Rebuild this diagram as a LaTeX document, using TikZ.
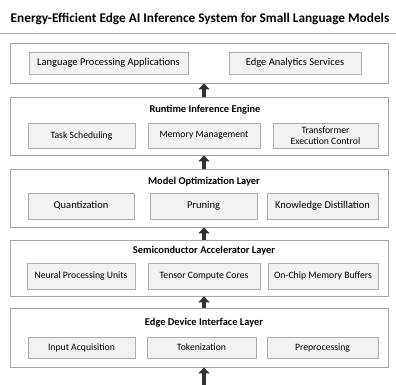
\documentclass[tikz,border=0pt]{standalone}
\usepackage{fontspec}
\setmainfont{Carlito}
\usetikzlibrary{arrows.meta}

\tikzset{
  layer/.style={draw=gray!70, fill=white, line width=0.7pt, minimum width=378pt, inner sep=0pt},
  part/.style={draw=gray!65, fill=gray!10, line width=0.7pt, minimum height=24pt, inner sep=1pt,
    align=center, font=\fontsize{9.7}{10.5}\selectfont},
  bigpart/.style={part, font=\fontsize{10.5}{11}\selectfont},
  layertitle/.style={font=\bfseries\fontsize{10.4}{12}\selectfont},
  uparrow/.style={draw=black!80, line width=3.5pt, -{Triangle[length=6pt,width=11pt]}}
}

\begin{document}
\begin{tikzpicture}[x=1pt,y=-1pt]
  \useasboundingbox (0,0) rectangle (396,385);
  % title
  \node[font=\bfseries\fontsize{13.3}{15}\selectfont] (title) at (200,19) {Energy-Efficient Edge AI Inference System for Small Language Models};
  \draw[gray!70, line width=0.8pt] (0,33) -- (396,33);

  % layer 1: applications
  \node[layer, minimum height=40pt] (l1) at (199,63) {};
  \node[bigpart, minimum width=159pt, minimum height=22pt] (app) at (108.5,63) {Language Processing Applications};
  \node[bigpart, minimum width=132pt, minimum height=22pt] (ana) at (295,63) {Edge Analytics Services};

  % layer 2: runtime
  \node[layer, minimum height=58pt] (l2) at (199,126) {};
  \node[layertitle] (t2) at (205,110) {Runtime Inference Engine};
  \node[part, minimum width=107pt, minimum height=25pt] (sched) at (81.5,135.5) {Task Scheduling};
  \node[part, minimum width=112pt, minimum height=25pt] (mem) at (204,135.5) {Memory Management};
  \node[part, minimum width=105pt, minimum height=25pt] (exec) at (325.5,135.5) {Transformer\\Execution Control};

  % layer 3: optimization
  \node[layer, minimum height=58pt] (l3) at (199,198) {};
  \node[layertitle] (t3) at (204,182) {Model Optimization Layer};
  \node[bigpart, minimum width=106pt, minimum height=26pt] (quant) at (81,206) {Quantization};
  \node[bigpart, minimum width=107pt, minimum height=26pt] (prune) at (203.5,206) {Pruning};
  \node[bigpart, minimum width=111pt, minimum height=26pt] (distil) at (322.5,206) {Knowledge Distillation};

  % layer 4: accelerator
  \node[layer, minimum height=56pt] (l4) at (199,268) {};
  \node[layertitle] (t4) at (204,251) {Semiconductor Accelerator Layer};
  \node[part, minimum width=108pt, minimum height=26pt] (npu) at (81,276) {Neural Processing Units};
  \node[part, minimum width=112pt, minimum height=26pt] (tensor) at (204,276) {Tensor Compute Cores};
  \node[part, minimum width=110pt, minimum height=26pt] (buf) at (323,276) {On-Chip Memory Buffers};

  % layer 5: device interface
  \node[layer, minimum height=59pt] (l5) at (199,337.5) {};
  \node[layertitle] (t5) at (204,323) {Edge Device Interface Layer};
  \node[part, minimum width=107pt, minimum height=21pt] (input) at (81.5,347.5) {Input Acquisition};
  \node[part, minimum width=109pt, minimum height=21pt] (token) at (201.5,347.5) {Tokenization};
  \node[part, minimum width=111pt, minimum height=21pt] (prep) at (322.5,347.5) {Preprocessing};

  % data flow upwards
  \coordinate (src) at (204,385);
  \draw[uparrow] (src) -- (l5.south -| src);
  \draw[uparrow] (l5.north -| src) -- (l4.south -| src);
  \draw[uparrow] (l4.north -| src) -- (l3.south -| src);
  \draw[uparrow] (l3.north -| src) -- (l2.south -| src);
  \draw[uparrow] (l2.north -| src) -- (l1.south -| src);
\end{tikzpicture}
\end{document}
